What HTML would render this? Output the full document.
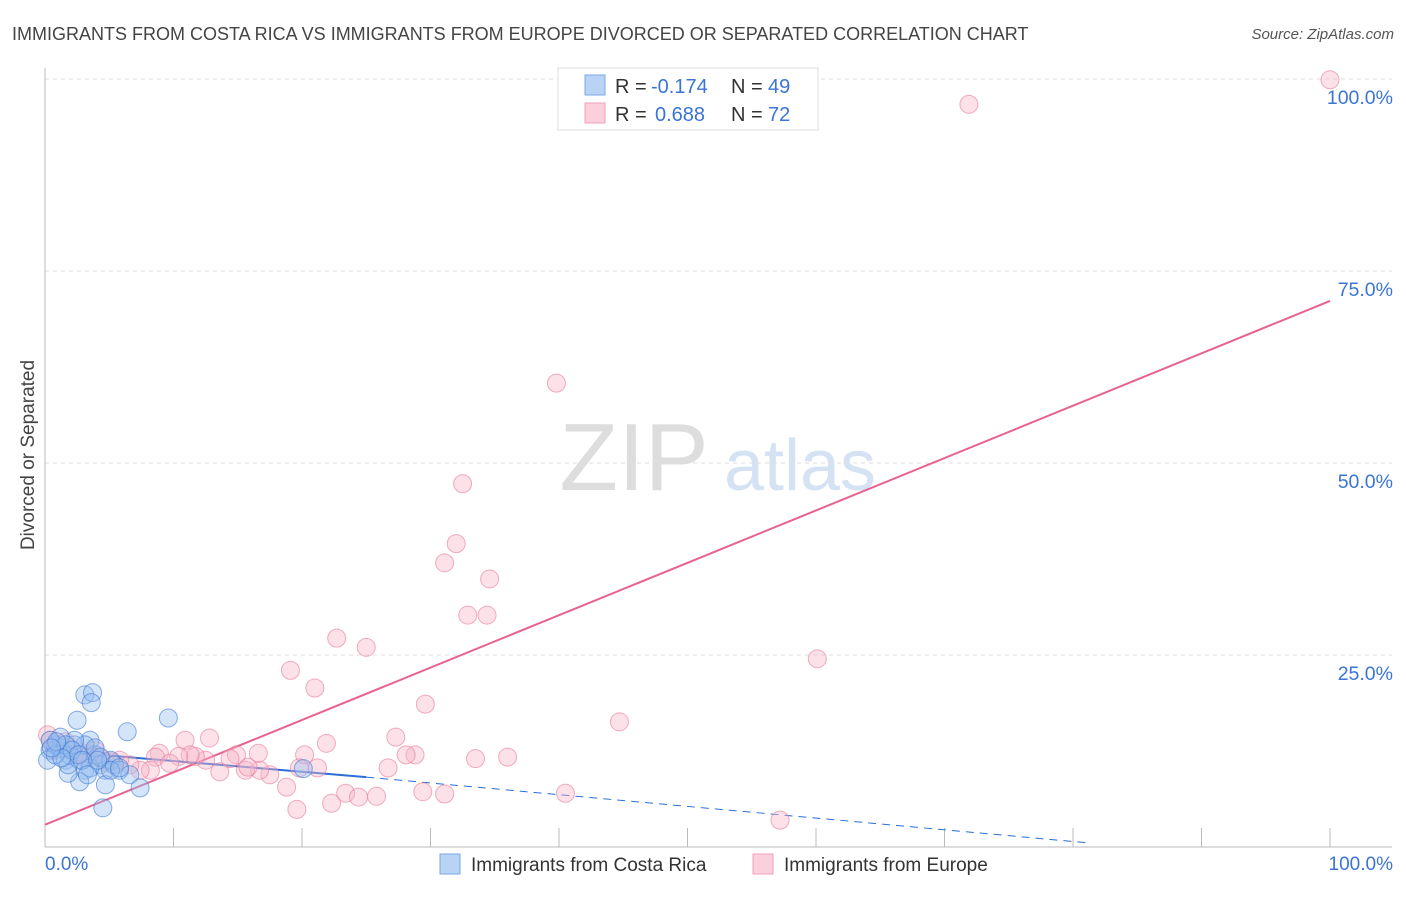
<!DOCTYPE html>
<html><head><meta charset="utf-8"><style>
body{margin:0;background:#fff;font-family:"Liberation Sans",sans-serif}
svg text{font-family:"Liberation Sans",sans-serif}
</style></head><body>
<svg id="chart" width="1406" height="892" xmlns="http://www.w3.org/2000/svg">
<text x="12" y="40" font-size="18" fill="#444">IMMIGRANTS FROM COSTA RICA VS IMMIGRANTS FROM EUROPE DIVORCED OR SEPARATED CORRELATION CHART</text>
<text x="1394" y="39" font-size="15" fill="#555" text-anchor="end" font-style="italic">Source: ZipAtlas.com</text>
<text transform="translate(34,455) rotate(-90)" font-size="19" fill="#444" text-anchor="middle">Divorced or Separated</text>
<g>
<text x="634" y="490" font-size="96" fill="#ddd" font-family="Liberation Serif,serif" text-anchor="middle">ZIP</text>
<text x="800" y="490" font-size="72" fill="#d4e2f4" text-anchor="middle">atlas</text>
</g>
<g id="grid"></g>
<g id="axes"></g>
<g id="lines"></g>
<g id="points"></g>
<g>
<rect x="558" y="68" width="260" height="62" fill="#fff" stroke="#ddd"/>
<rect x="585" y="75" width="20" height="20" fill="#b8d3f4" stroke="#7aa8e6"/>
<rect x="585" y="103" width="20" height="20" fill="#fbd0dc" stroke="#f0a0b8"/>
<text x="615" y="93" font-size="20" fill="#333">R =</text>
<text x="651" y="93" font-size="20" fill="#3b74d6">-0.174</text>
<text x="731" y="93" font-size="20" fill="#333">N =</text>
<text x="768" y="93" font-size="20" fill="#3b74d6">49</text>
<text x="615" y="121" font-size="20" fill="#333">R =</text>
<text x="655" y="121" font-size="20" fill="#3b74d6">0.688</text>
<text x="731" y="121" font-size="20" fill="#333">N =</text>
<text x="768" y="121" font-size="20" fill="#3b74d6">72</text>
</g>
<g>
<rect x="440" y="854" width="20" height="20" fill="#b8d3f4" stroke="#7aa8e6"/>
<text x="471" y="871" font-size="19" fill="#333">Immigrants from Costa Rica</text>
<rect x="753" y="854" width="20" height="20" fill="#fbd0dc" stroke="#f0a0b8"/>
<text x="784" y="871" font-size="19" fill="#333">Immigrants from Europe</text>
</g>
</svg>
<script>
const blueX=[0.4,0.8,1.2,1.6,1.9,2.3,2.7,3.1,3.5,3.9,4.3,4.7,5.1,5.4,6.4,5.8,6.6,7.4,4.5,4.7,2.7,1.8,3.1,3.7,3.6,2.5,9.6,20.1,3.1,3.5,2.3,1.2,0.4,3.9,4.3,1.8,5.1,0.2,0.8,1.6,2.1,2.6,2.9,3.3,1.3,0.9,0.5,4.1,5.8];
const blueY=[12.6,13.3,12.9,11.3,12.0,13.3,11.3,10.0,13.9,12.0,10.7,10.0,11.3,10.7,15.0,10.0,9.4,7.7,5.1,8.1,8.5,9.6,19.8,20.1,18.8,16.5,16.8,10.2,13.3,10.3,13.9,14.3,13.9,12.9,11.7,10.7,10.0,11.3,12.0,13.3,12.6,12.0,11.3,9.4,11.6,13.7,12.9,11.3,10.3];
const pinkX=[100,71.9,39.8,32.5,32.0,31.1,34.6,32.9,34.4,22.7,25.0,60.1,19.1,21.0,29.6,44.7,27.3,21.9,28.8,28.1,33.5,36.0,26.7,40.5,57.2,29.4,31.1,25.8,23.4,24.4,22.3,19.6,17.5,16.7,18.8,20.2,19.8,21.2,15.6,15.8,13.6,14.9,16.6,14.4,12.8,10.9,12.5,11.7,11.3,10.4,8.9,8.6,8.2,9.7,7.4,6.6,5.8,5.1,4.3,3.5,2.7,1.9,1.2,0.4,0.2,0.8,1.6,2.3,3.1,3.9,4.7,5.4];
const pinkY=[99.9,96.7,60.4,47.3,39.5,37.0,34.9,30.2,30.2,27.2,26.0,24.5,23.0,20.7,18.6,16.3,14.3,13.5,12.0,12.0,11.5,11.7,10.3,7.0,3.5,7.2,6.9,6.6,7.0,6.5,5.7,4.9,9.4,10.0,7.8,12.0,10.3,10.3,10.0,10.4,9.8,12.0,12.2,11.5,14.2,13.9,11.3,11.8,12.0,11.8,12.2,11.7,10.0,10.9,10.0,10.7,11.3,11.1,11.6,12.0,12.4,12.9,13.3,13.9,14.6,12.6,13.7,12.0,11.6,12.6,11.1,10.7];
const yTicks=[25,50,75,100];
const yTickLabels=["25.0%","50.0%","75.0%","100.0%"];
const xTicks=[0,10,20,30,40,50,60,70,80,90,100];
const pinkTrend=[2.9,71.1];
const blueTrend=[12.6,9.1,0.5];
const blueTrendX=[0,25,81.4];

const sx=v=>45+v*12.85, sy=v=>847-v*7.68;
const NS="http://www.w3.org/2000/svg";
function mk(tag,attrs,parent){const e=document.createElementNS(NS,tag);for(const k in attrs)e.setAttribute(k,attrs[k]);document.getElementById(parent).appendChild(e);return e;}
yTicks.forEach((t,i)=>{
 const l=mk('line',{x1:45,x2:1392,y1:sy(t),y2:sy(t),stroke:'#ddd','stroke-dasharray':'4,4'},'grid');
 
 
 const tx=mk('text',{x:1393,y:sy(t)+25,'font-size':19.5,fill:'#3b74d6','text-anchor':'end'},'grid');
 tx.textContent=yTickLabels[i];
 
 
});
let ax=mk('line',{x1:45,x2:45,y1:68,y2:847,stroke:'#bbb'},'axes');


ax=mk('line',{x1:45,x2:1392,y1:847,y2:847,stroke:'#bbb'},'axes');


xTicks.forEach(t=>{
 const l=mk('line',{x1:sx(t),x2:sx(t),y1:828,y2:847,stroke:'#bbb'},'axes');
 
 
});
let xl=mk('text',{x:45,y:870,'font-size':19,fill:'#3b74d6'},'axes');xl.textContent='0.0%';


xl=mk('text',{x:1393,y:870,'font-size':19,fill:'#3b74d6','text-anchor':'end'},'axes');xl.textContent='100.0%';


pinkX.forEach((x,i)=>{
 const c=mk('circle',{cx:sx(x),cy:sy(pinkY[i]),r:9,fill:'rgba(248,180,200,0.4)',stroke:'rgba(232,120,155,0.6)','stroke-width':1},'points');
 
 
});
blueX.forEach((x,i)=>{
 const c=mk('circle',{cx:sx(x),cy:sy(blueY[i]),r:9,fill:'rgba(150,190,240,0.4)',stroke:'rgba(60,120,210,0.6)','stroke-width':1},'points');
 
 
});
let tl=mk('line',{x1:sx(0),y1:sy(pinkTrend[0]),x2:sx(100),y2:sy(pinkTrend[1]),stroke:'#e8628f','stroke-width':2},'lines');


tl=mk('line',{x1:sx(blueTrendX[0]),y1:sy(blueTrend[0]),x2:sx(blueTrendX[1]),y2:sy(blueTrend[1]),stroke:'#2a6fd6','stroke-width':2},'lines');


tl=mk('line',{x1:sx(blueTrendX[1]),y1:sy(blueTrend[1]),x2:sx(blueTrendX[2]),y2:sy(blueTrend[2]),stroke:'#2a6fd6','stroke-width':1,'stroke-dasharray':'8,6'},'lines');


</script>
</body></html>
